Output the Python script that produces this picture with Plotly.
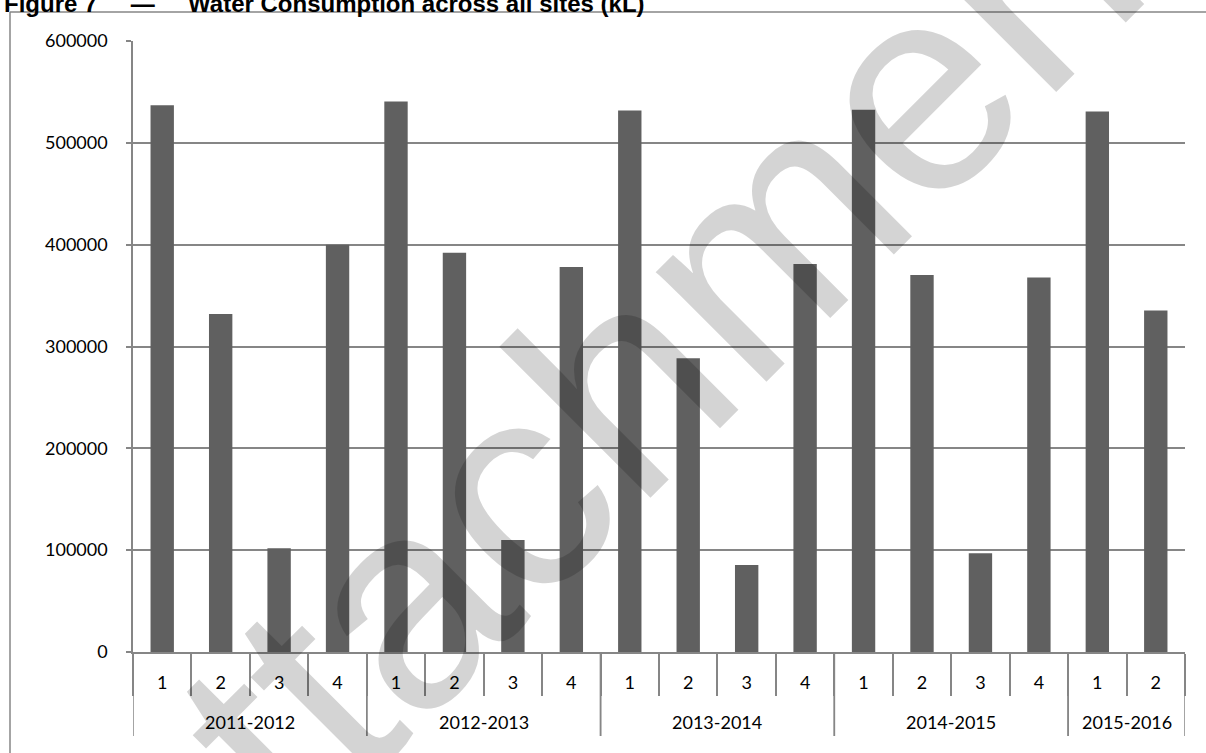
import plotly.graph_objects as go

# Quarterly water consumption (kL) by financial year
years = ["2011-2012", "2011-2012", "2011-2012", "2011-2012",
         "2012-2013", "2012-2013", "2012-2013", "2012-2013",
         "2013-2014", "2013-2014", "2013-2014", "2013-2014",
         "2014-2015", "2014-2015", "2014-2015", "2014-2015",
         "2015-2016", "2015-2016"]
quarters = ["1", "2", "3", "4",
            "1", "2", "3", "4",
            "1", "2", "3", "4",
            "1", "2", "3", "4",
            "1", "2"]
consumption = [537000, 332000, 102000, 400000,
               540500, 392000, 110000, 378000,
               531700, 288500, 85500, 381000,
               532400, 370300, 97000, 367700,
               530800, 335300]
y_ticks = [0, 100000, 200000, 300000, 400000, 500000, 600000]

W, H = 1206, 753
L, R, T, B = 133, 1185, 41, 652  # plot area edges in pixels
GRID = "#868686"
FONT = "Lato"


def px(x):
    return (x - L) / (R - L)


def py(y):
    return (B - y) / (B - T)


n = len(consumption)
pos = list(range(n))

# Group the quarters by financial year
groups = []
for i, yr in enumerate(years):
    if groups and groups[-1][0] == yr:
        groups[-1][2] = i
    else:
        groups.append([yr, i, i])

fig = go.Figure(
    go.Bar(
        x=pos,
        y=consumption,
        marker=dict(color="#606060", line=dict(width=0)),
        showlegend=False,
    )
)

fig.update_layout(
    width=W,
    height=H,
    margin=dict(l=L, r=W - R, t=T, b=H - B, pad=0),
    paper_bgcolor="white",
    plot_bgcolor="white",
    bargap=0.6,
    font=dict(family=FONT, size=18, color="#000000"),
)

fig.update_xaxes(
    range=[-0.5, n - 0.5],
    tickmode="array",
    tickvals=pos,
    ticktext=quarters,
    ticks="",
    showline=True,
    linecolor=GRID,
    linewidth=1.5,
    showgrid=False,
    zeroline=False,
    ticklabelstandoff=14,
    tickfont=dict(family=FONT, size=18, color="#000000"),
    minor=dict(
        tickmode="array",
        tickvals=[i - 0.5 for i in range(n + 1)],
        ticks="outside",
        ticklen=42,
        tickcolor=GRID,
        tickwidth=1.5,
        showgrid=False,
    ),
)

fig.update_yaxes(
    range=[0, 600000],
    tickvals=y_ticks,
    ticktext=[str(v) for v in y_ticks],
    showgrid=True,
    gridcolor=GRID,
    gridwidth=1.5,
    showline=True,
    linecolor=GRID,
    linewidth=1.5,
    ticks="outside",
    ticklen=5,
    tickcolor=GRID,
    tickwidth=1.5,
    ticklabelstandoff=15,
    zeroline=False,
    tickfont=dict(family=FONT, size=18, color="#000000"),
)

# Financial-year labels and dividers beneath the quarter labels
for yr, first, last in groups:
    fig.add_annotation(
        text=yr, xref="x", yref="paper",
        x=(first + last) / 2, y=py(722),
        xanchor="center", yanchor="middle", showarrow=False,
        font=dict(family=FONT, size=18, color="#000000"),
    )
    for edge in (first - 0.5, last + 0.5):
        fig.add_shape(type="line", xref="x", yref="paper",
                      x0=edge, x1=edge, y0=0, y1=py(736),
                      line=dict(color=GRID, width=1.5))

# Outer chart frame (left and top edges)
fig.add_shape(type="line", xref="paper", yref="paper",
              x0=px(10), x1=px(10), y0=py(12), y1=py(H + 5),
              line=dict(color=GRID, width=1.5))
fig.add_shape(type="line", xref="paper", yref="paper",
              x0=px(10), x1=px(W + 5), y0=py(12), y1=py(12),
              line=dict(color=GRID, width=1.5))

# Figure caption above the frame
gap = "\u00a0" * 5
fig.add_annotation(
    text=f"<b>Figure 7{gap}—{gap}Water Consumption across all sites (kL)</b>",
    xref="paper", yref="paper", x=px(2), y=py(19),
    xanchor="left", yanchor="bottom", showarrow=False,
    font=dict(family="Liberation Sans", size=24, color="#000000"),
)

# Diagonal watermark
fig.add_annotation(
    text="Attachment",
    xref="paper", yref="paper", x=px(616), y=py(388),
    xanchor="center", yanchor="middle", showarrow=False,
    textangle=-45,
    font=dict(family="Liberation Sans", size=295, color="rgba(0,0,0,0.17)"),
)

fig.write_html("out.html")
